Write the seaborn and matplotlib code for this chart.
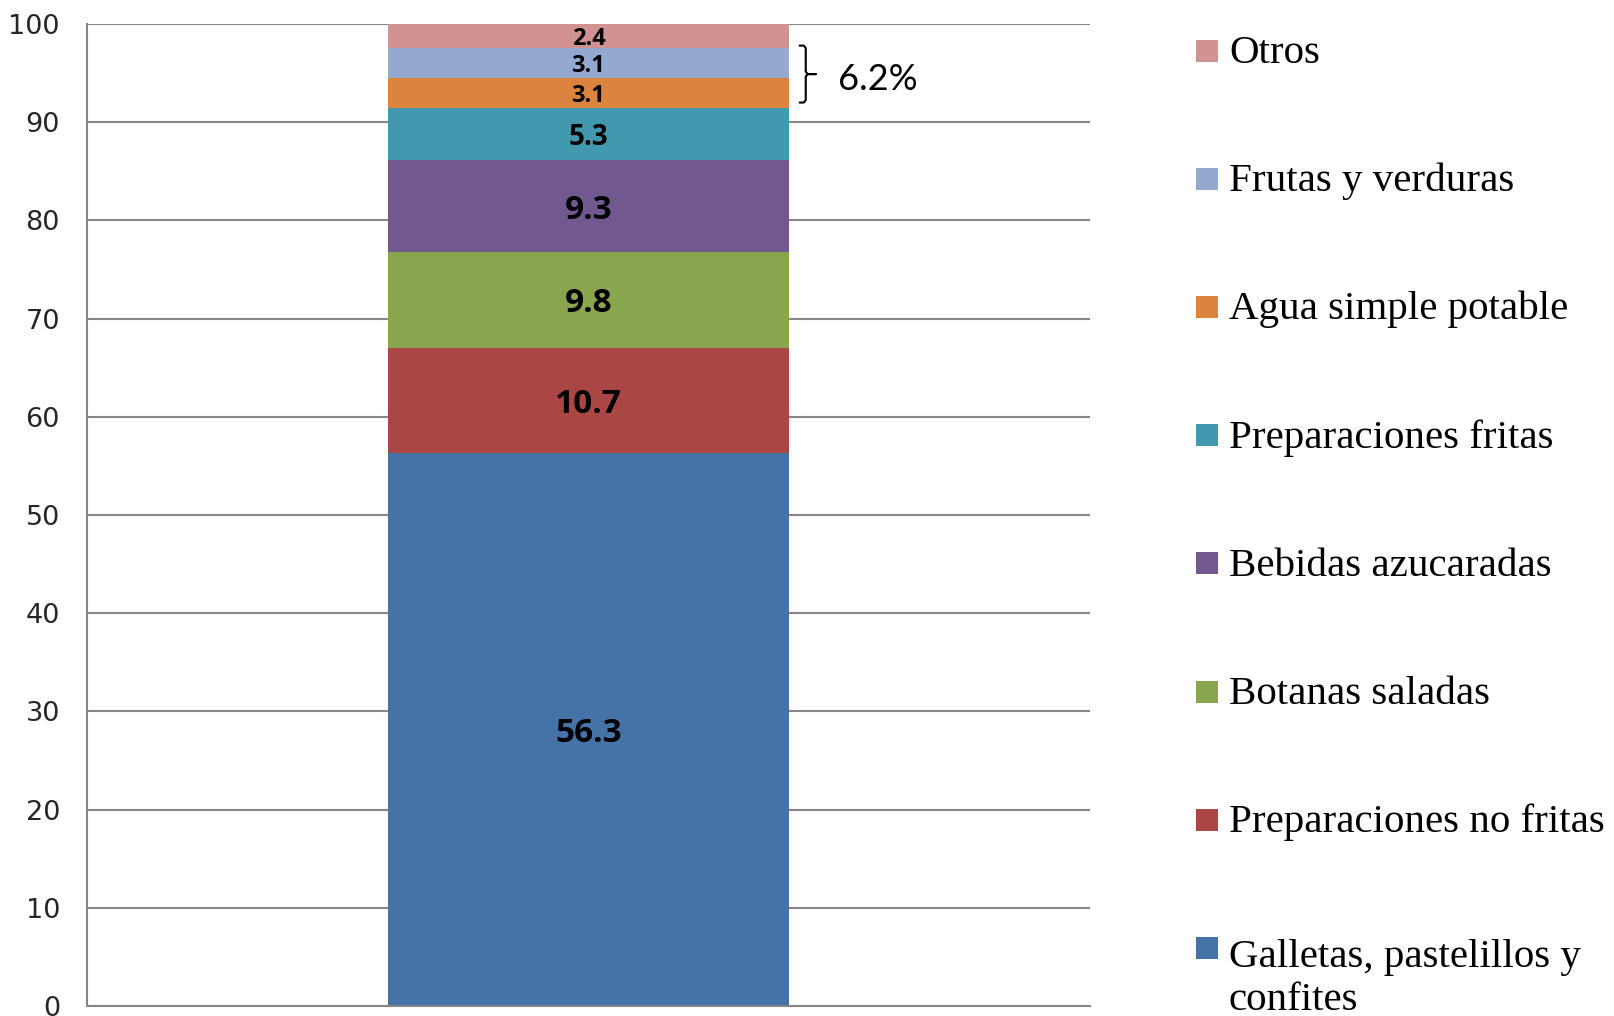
import matplotlib
matplotlib.use("Agg")
import matplotlib.pyplot as plt
from matplotlib.patches import Rectangle
import pandas as pd
import seaborn as sns

# datos (de abajo hacia arriba en la barra)
categorias = ["Galletas, pastelillos y\nconfites", "Preparaciones no fritas", "Botanas saladas",
              "Bebidas azucaradas", "Preparaciones fritas", "Agua simple potable",
              "Frutas y verduras", "Otros"]
porcentajes = [56.3, 10.7, 9.8, 9.3, 5.3, 3.1, 3.1, 2.4]
colores = ["#4572A7", "#AA4643", "#89A54E", "#71588F", "#4198AF", "#DB843D", "#93A9CF", "#D19392"]
ticks_y = [0, 10, 20, 30, 40, 50, 60, 70, 80, 90, 100]

sns.set_style("white")
plt.rcParams["font.family"] = ["DejaVu Sans"]

W, H = 1615, 1016
fig = plt.figure(figsize=(W / 100, H / 100), dpi=100)
ax = fig.add_axes([87 / W, 10 / H, 1003 / W, 982 / H])

df = pd.DataFrame({"grupo": [""] * len(categorias), "categoria": categorias, "valor": porcentajes})
df["base"] = df["valor"].cumsum() - df["valor"]

for i, fila in df.iterrows():
    sns.barplot(data=df.iloc[[i]], x="grupo", y="valor", bottom=fila["base"], color=colores[i],
                saturation=1, width=0.4, errorbar=None, linewidth=0, ax=ax)

# etiquetas de cada segmento
for cont, v in zip(ax.containers, porcentajes):
    fs = 24 if v > 9 else (20 if v > 5 else 17)
    etiquetas = ax.bar_label(cont, labels=[f"{v:.1f}"], label_type="center", fontsize=fs,
                             fontweight="bold", family="Open Sans", color="black")
    for t in etiquetas:
        t.set_va("center_baseline")

gris = "#868686"
ax.set_xlim(-0.5, 0.5)
ax.set_ylim(0, 100)
ax.set_yticks(ticks_y)
ax.set_xticks([-0.5, 0.5])
ax.set_xticklabels(["", ""])
ax.set_xlabel("")
ax.set_ylabel("")
ax.yaxis.grid(True, color=gris, lw=1.5)
ax.xaxis.grid(False)
ax.set_axisbelow(True)
for s in ["top", "right"]:
    ax.spines[s].set_visible(False)
for s in ["left", "bottom"]:
    ax.spines[s].set_color(gris)
    ax.spines[s].set_linewidth(1.5)
ax.tick_params(axis="y", direction="out", length=6.5, width=1.5, color=gris, pad=13, labelsize=19.5)
ax.tick_params(axis="x", direction="out", length=6, width=1.5, color=gris)

# llave para Agua + Frutas
agua = df.iloc[5]
frutas = df.iloc[6]
yt = frutas["base"] + frutas["valor"] + 0.2
yb = agua["base"] + 0.6
ym = (yt + yb) / 2
x0, x1, x2 = 0.2105, 0.2166, 0.2265
ax.plot([x0, x1 - 0.002, x1, x1, x1 + 0.002, x2, x1 + 0.002, x1, x1, x1 - 0.002, x0],
        [yt, yt, yt - 0.25, ym + 0.25, ym, ym, ym, ym - 0.25, yb + 0.25, yb, yb],
        color="black", lw=1.5, clip_on=False)
ax.text(0.2488, ym - 0.6, f"{agua['valor'] + frutas['valor']:.1f}%", ha="left", va="center",
        fontsize=26, family="Lato", color="black")

# leyenda manual (orden inverso)
fs_ley = 29.5
alto_linea = 1.2 * fs_ley * 100 / 72
for k, i in enumerate(range(len(categorias) - 1, -1, -1)):
    yc = 50.5 + k * 128.2
    fig.add_artist(Rectangle((1196 / W, 1 - (yc + 11) / H), 22 / W, 22 / H,
                             transform=fig.transFigure, facecolor=colores[i], edgecolor="none"))
    extra = categorias[i].count("\n") * alto_linea
    fig.text(1229 / W, 1 - (yc + 12.5 + extra) / H, categorias[i], ha="left", va="baseline",
             fontsize=fs_ley, family="Liberation Serif", color="black", linespacing=1.2)

fig.savefig("out.png", dpi=100)
